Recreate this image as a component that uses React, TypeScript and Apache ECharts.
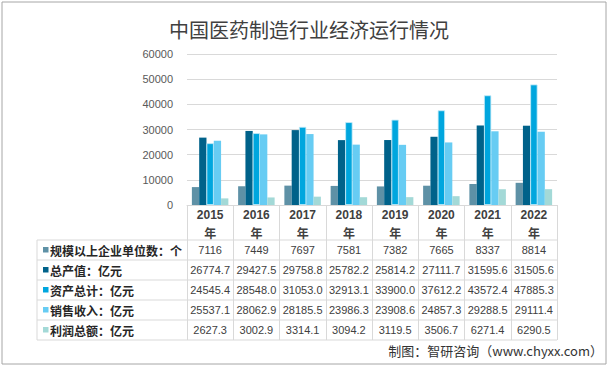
import React, { useEffect, useRef } from "react";
import * as echarts from "echarts";

const categories = ["2015", "2016", "2017", "2018", "2019", "2020", "2021", "2022"];
const seriesNames = ["规模以上企业单位数：个", "总产值：亿元", "资产总计：亿元", "销售收入：亿元", "利润总额：亿元"];
const enterprises = [7116, 7449, 7697, 7581, 7382, 7665, 8337, 8814];
const outputValue = [26774.7, 29427.5, 29758.8, 25782.2, 25814.2, 27111.7, 31595.6, 31505.6];
const totalAssets = [24545.4, 28548.0, 31053.0, 32913.1, 33900.0, 37612.2, 43572.4, 47885.3];
const salesRevenue = [25537.1, 28062.9, 28185.5, 23986.3, 23908.6, 24857.3, 29288.5, 29111.4];
const totalProfit = [2627.3, 3002.9, 3314.1, 3094.2, 3119.5, 3506.7, 6271.4, 6290.5];
const decimals = [0, 1, 1, 1, 1];
const colors = ["#5e91a6", "#00628a", "#00a6de", "#67ccf3", "#a3d9d7"];
const yTicks = [0, 10000, 20000, 30000, 40000, 50000, 60000];

const allSeries = [enterprises, outputValue, totalAssets, salesRevenue, totalProfit];

export default function App() {
  const ref = useRef<HTMLDivElement>(null);
  useEffect(() => {
    const chart = echarts.init(ref.current!, null, { renderer: "svg" });
    const gridLeft = 187;
    const gridRight = 557;
    const axisY = 205;
    const headerBottom = 240;
    const rowH = 20;

    const extraAxes = allSeries.map((vals, i) => ({
      type: "category",
      data: vals.map((v) => v.toFixed(decimals[i])),
      position: "bottom",
      offset: headerBottom - axisY + rowH * i + rowH / 2,
      axisLine: { show: false },
      axisTick: { show: false },
      splitLine: { show: false },
      axisLabel: {
        interval: 0,
        margin: 0,
        verticalAlign: "middle",
        fontSize: 11,
        color: "#404040",
        fontFamily: "Liberation Sans",
      },
    }));

    const graphics: any[] = [
      {
        type: "rect",
        shape: { x: 2, y: 2, width: 604, height: 362 },
        style: { fill: "none", stroke: "#a6a6a6", lineWidth: 1 },
      },
      {
        type: "line",
        shape: { x1: 37, y1: headerBottom, x2: 37, y2: headerBottom + rowH * 5 },
        style: { stroke: "#d9d9d9", lineWidth: 1 },
      },
      {
        type: "text",
        x: 603,
        y: 350,
        style: {
          text: "制图：智研咨询（www.chyxx.com）",
          fontSize: 13,
          fill: "#333333",
          align: "right",
          verticalAlign: "middle",
          fontFamily: "Noto Sans CJK SC",
        },
      },
    ];
    for (let r = 0; r <= 5; r++) {
      graphics.push({
        type: "line",
        shape: { x1: 37, y1: headerBottom + rowH * r, x2: gridRight, y2: headerBottom + rowH * r },
        style: { stroke: "#d9d9d9", lineWidth: 1 },
      });
    }
    seriesNames.forEach((name, i) => {
      const cy = headerBottom + rowH * i + rowH / 2;
      graphics.push({
        type: "rect",
        shape: { x: 43, y: cy - 3, width: 5.5, height: 5.5 },
        style: { fill: colors[i] },
      });
      graphics.push({
        type: "text",
        x: 50,
        y: cy,
        style: {
          text: name,
          fontSize: 12,
          fontWeight: "bold",
          fill: "#262626",
          verticalAlign: "middle",
          fontFamily: "Noto Sans CJK SC",
        },
      });
    });

    chart.setOption({
      animation: false,
      title: {
        text: "中国医药制造行业经济运行情况",
        left: 304,
        top: 14,
        textAlign: "center",
        textStyle: { fontSize: 20, fontWeight: "normal", color: "#404040", fontFamily: "Noto Sans CJK SC" },
      },
      grid: { left: gridLeft, right: 610 - gridRight, top: 54, bottom: 368 - axisY },
      xAxis: [
        {
          type: "category",
          data: categories,
          position: "bottom",
          axisLine: { lineStyle: { color: "#d9d9d9" } },
          axisTick: { show: true, length: headerBottom - axisY + rowH * 5, lineStyle: { color: "#d9d9d9" } },
          axisLabel: {
            interval: 0,
            margin: 18.5,
            verticalAlign: "middle",
            lineHeight: 17,
            fontSize: 12,
            fontWeight: "bold",
            color: "#404040",
            fontFamily: "Liberation Sans",
            formatter: (v: string) => v + "\n{c|年}",
            rich: { c: { fontSize: 12, fontWeight: "bold", color: "#404040", fontFamily: "Noto Sans CJK SC", lineHeight: 17 } },
          },
        },
        ...extraAxes,
      ],
      yAxis: {
        type: "value",
        min: yTicks[0],
        max: yTicks[yTicks.length - 1],
        interval: 10000,
        axisLine: { show: false },
        axisTick: { show: false },
        axisLabel: {
          fontSize: 11,
          color: "#595959",
          margin: 14,
          fontFamily: "Liberation Sans",
          formatter: (v: number) => String(v),
        },
        splitLine: { lineStyle: { color: "#d9d9d9" } },
      },
      series: allSeries.map((vals, i) => ({
        name: seriesNames[i],
        type: "bar",
        data: vals,
        barWidth: 7.3,
        barGap: "0%",
        itemStyle: {
          color: colors[i],
          borderColor: i === 2 ? "#c4ebf8" : undefined,
          borderWidth: i === 2 ? 0.8 : 0,
        },
      })),
      graphic: graphics,
    });
    return () => chart.dispose();
  }, []);
  return (
    <div
      ref={ref}
      style={{ position: "fixed", left: 0, top: 0, width: 610, height: 368, background: "#ffffff" }}
    />
  );
}
